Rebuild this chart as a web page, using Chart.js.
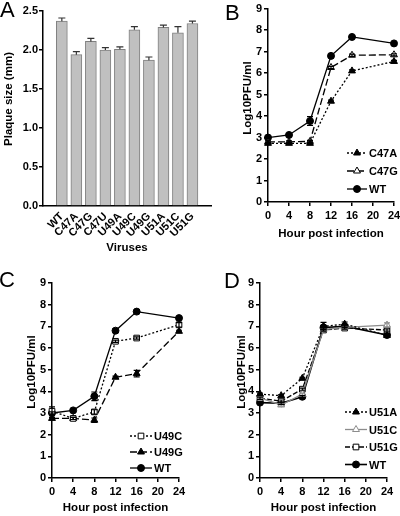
<!DOCTYPE html>
<html>
<head>
<meta charset="utf-8">
<script src="https://cdn.jsdelivr.net/npm/chart.js@4.4.0/dist/chart.umd.min.js"></script>
<style>
  html, body { margin: 0; padding: 0; background: #fff; overflow: hidden; }
  body { width: 400px; height: 516px; position: relative; font-family: "Liberation Sans", Arial, sans-serif; }
  canvas { position: absolute; }
  .tag { position: absolute; font-size: 22px; line-height: 22px; color: #000; }
</style>
</head>
<body>
<canvas id="chartA" width="215" height="265" style="left:0;top:0"></canvas>
<canvas id="chartB" width="206" height="250" style="left:200px;top:0"></canvas>
<canvas id="chartC" width="200" height="251" style="left:0;top:265px"></canvas>
<canvas id="chartD" width="206" height="251" style="left:200px;top:265px"></canvas>
<div class="tag" style="left:0;top:-1px">A</div>
<div class="tag" style="left:225px;top:2px">B</div>
<div class="tag" style="left:-1px;top:269px">C</div>
<div class="tag" style="left:224px;top:270px">D</div>
<script>
// panel A: plaque size
const viruses = ["WT", "C47A", "C47G", "C47U", "U49A", "U49C", "U49G", "U51A", "U51C", "U51G"]
const plaqueSize = [2.37, 1.94, 2.11, 2.00, 2.01, 2.26, 1.87, 2.29, 2.22, 2.34]
const plaqueErr = [0.04, 0.04, 0.04, 0.03, 0.03, 0.04, 0.04, 0.03, 0.08, 0.03]
const plaqueTicks = [0, 0.5, 1.0, 1.5, 2.0, 2.5]

// panels B-D: growth curves
const hours = [0, 4, 8, 12, 16, 24]
const hourTicks = [0, 4, 8, 12, 16, 20, 24]
const logTicks = [0, 1, 2, 3, 4, 5, 6, 7, 8, 9]

const wt = [3.0, 3.12, 3.77, 6.8, 7.68, 7.38]
const wtErr = [0.05, 0.05, 0.2, 0.08, 0.05, 0.05]
const c47a = [2.73, 2.73, 2.73, 4.69, 6.1, 6.54]
const c47aErr = [0.05, 0.05, 0.05, 0.05, 0.05, 0.05]
const c47g = [2.8, 2.8, 2.82, 6.26, 6.83, 6.85]
const c47gErr = [0.05, 0.05, 0.05, 0.05, 0.05, 0.05]

const u49c = [3.08, 2.75, 3.05, 6.31, 6.46, 7.07]
const u49cErr = [0.2, 0.05, 0.1, 0.05, 0.05, 0.1]
const u49g = [2.75, 2.75, 2.67, 4.65, 4.82, 6.77]
const u49gErr = [0.05, 0.05, 0.1, 0.05, 0.15, 0.05]

const wtD = [3.48, 3.45, 3.75, 6.95, 7.0, 6.6]
const wtDErr = [0.05, 0.05, 0.05, 0.1, 0.05, 0.05]
const u51a = [3.87, 3.8, 4.6, 7.0, 7.1, 6.58]
const u51aErr = [0.05, 0.05, 0.05, 0.18, 0.1, 0.05]
const u51c = [3.7, 3.37, 3.87, 6.85, 6.95, 7.06]
const u51cErr = [0.05, 0.05, 0.05, 0.05, 0.05, 0.1]
const u51g = [3.68, 3.55, 4.1, 6.83, 6.92, 6.83]
const u51gErr = [0.05, 0.05, 0.05, 0.05, 0.05, 0.05]

const FONT = "'Liberation Sans', Arial, sans-serif"
Chart.defaults.font.family = FONT
Chart.defaults.font.size = 11
Chart.defaults.font.weight = "bold"
Chart.defaults.color = "#000"
Chart.defaults.animation = false
Chart.defaults.devicePixelRatio = 1

const titleFont = { size: 11.5, weight: "bold" }

// error bars from ds.err, drawn through the y scale
const errorBars = {
  id: "errorBars",
  afterDatasetsDraw(chart, args, opts) {
    const ctx = chart.ctx
    const yScale = chart.scales.y
    chart.data.datasets.forEach((ds, i) => {
      if (!ds.err) return
      const meta = chart.getDatasetMeta(i)
      ctx.save()
      ctx.strokeStyle = ds.errColor || ds.borderColor
      ctx.lineWidth = 1.2
      meta.data.forEach((el, j) => {
        const raw = ds.data[j]
        const v = typeof raw === "object" ? raw.y : raw
        const e = ds.err[j]
        const top = yScale.getPixelForValue(v + e)
        const bot = opts.upOnly ? el.y : yScale.getPixelForValue(v - e)
        const w = opts.cap || 3
        ctx.beginPath()
        ctx.moveTo(el.x, bot)
        ctx.lineTo(el.x, top)
        ctx.moveTo(el.x - w, top)
        ctx.lineTo(el.x + w, top)
        if (!opts.upOnly) {
          ctx.moveTo(el.x - w, bot)
          ctx.lineTo(el.x + w, bot)
        }
        ctx.stroke()
      })
      ctx.restore()
    })
  }
}

// legend inside the plot: line sample + marker + label
const inLegend = {
  id: "inLegend",
  afterDraw(chart, args, opts) {
    if (opts.x == null) return
    const ctx = chart.ctx
    chart.data.datasets.forEach((ds, i) => {
      const y = opts.y + i * opts.gap
      ctx.save()
      ctx.strokeStyle = ds.borderColor
      ctx.lineWidth = ds.borderWidth
      ctx.setLineDash(ds.borderDash || [])
      ctx.beginPath()
      ctx.moveTo(opts.x, y)
      ctx.lineTo(opts.x + opts.w, y)
      ctx.stroke()
      ctx.setLineDash([])
      ctx.fillStyle = ds.pointBackgroundColor
      ctx.strokeStyle = ds.pointBorderColor
      ctx.lineWidth = 1
      Chart.helpers.drawPoint(ctx, {
        pointStyle: ds.pointStyle,
        radius: ds.pointRadius,
        rotation: 0,
        borderWidth: 1
      }, opts.x + opts.w / 2, y)
      ctx.fillStyle = "#000"
      ctx.font = "bold 11px " + FONT
      ctx.textBaseline = "middle"
      ctx.fillText(ds.label, opts.x + opts.w + 2, y + 1)
      ctx.restore()
    })
  }
}

// vertical axis title placed where the original has it
const yTitle = {
  id: "yTitle",
  afterDraw(chart, args, opts) {
    if (!opts.text) return
    const ctx = chart.ctx
    ctx.save()
    ctx.translate(opts.x, opts.y)
    ctx.rotate(-Math.PI / 2)
    ctx.font = "bold 11.5px " + FONT
    ctx.fillStyle = "#000"
    ctx.textAlign = "center"
    ctx.textBaseline = "middle"
    ctx.fillText(opts.text, 0, 0)
    ctx.restore()
  }
}

function axisStyle() {
  return {
    grid: { display: true, drawOnChartArea: false, drawTicks: true, tickLength: 4, color: "#000", lineWidth: 1.5 },
    border: { display: true, color: "#000", width: 1.5 }
  }
}

// ---------- A ----------
new Chart(document.getElementById("chartA"), {
  type: "bar",
  data: {
    datasets: [{
      data: plaqueSize.map((v, i) => ({ x: i, y: v })),
      err: plaqueErr,
      errColor: "#333",
      backgroundColor: "#c0c0c0",
      borderColor: "#808080",
      borderWidth: 1,
      barThickness: 11
    }]
  },
  options: {
    responsive: false,
    layout: { padding: { top: 11, right: 4, left: 0, bottom: 0 } },
    plugins: {
      legend: { display: false },
      tooltip: { enabled: false },
      errorBars: { upOnly: true, cap: 3.5 },
      yTitle: { text: "Plaque size (mm)", x: 9, y: 99 }
    },
    scales: {
      x: {
        type: "linear",
        min: -0.72,
        max: 9.7,
        afterBuildTicks: (s) => { s.ticks = viruses.map((_, i) => ({ value: i })) },
        afterFit: (s) => { s.height = 59 },
        ticks: {
          autoSkip: false,
          minRotation: 45,
          maxRotation: 45,
          padding: -4,
          callback: (v) => viruses[v]
        },
        grid: { display: false },
        border: { display: true, color: "#000", width: 1.5 },
        title: { display: true, text: "Viruses", font: titleFont, padding: { bottom: 10 } }
      },
      y: {
        min: 0,
        max: 2.5,
        afterBuildTicks: (s) => { s.ticks = plaqueTicks.map((v) => ({ value: v })) },
        afterFit: (s) => { s.width = 43 },
        ticks: { padding: 1, callback: (v) => v.toFixed(1) },
        ...axisStyle()
      }
    }
  },
  plugins: [errorBars, yTitle]
})

// ---------- line panels ----------
function lineSet(label, values, err, style) {
  return Object.assign({
    label: label,
    data: hours.map((h, i) => ({ x: h, y: values[i] })),
    err: err,
    borderColor: "#000",
    borderWidth: 1.3,
    pointRadius: 3.5,
    pointBorderWidth: 1,
    pointBorderColor: "#000",
    pointBackgroundColor: "#000",
    tension: 0,
    clip: false
  }, style)
}

function growthChart(id, datasets, geo) {
  return new Chart(document.getElementById(id), {
    type: "line",
    data: { datasets: datasets },
    options: {
      responsive: false,
      layout: { padding: { top: geo.top, right: geo.right, left: 0, bottom: 0 } },
      plugins: {
        legend: { display: false },
        tooltip: { enabled: false },
        errorBars: { cap: 3 },
        inLegend: geo.legend,
        yTitle: { text: "Log10PFU/ml", x: geo.ytx, y: geo.yty }
      },
      scales: {
        x: {
          type: "linear",
          min: 0,
          max: 24,
          afterBuildTicks: (s) => { s.ticks = hourTicks.map((v) => ({ value: v })) },
          afterFit: (s) => { s.height = geo.xh },
          ticks: { padding: 3, maxRotation: 0 },
          ...axisStyle(),
          title: { display: true, text: "Hour post infection", font: titleFont, padding: { bottom: geo.xtitle } }
        },
        y: {
          min: 0,
          max: 9,
          afterBuildTicks: (s) => { s.ticks = logTicks.map((v) => ({ value: v })) },
          afterFit: (s) => { s.width = geo.yw },
          ticks: { padding: 2 },
          ...axisStyle()
        }
      }
    },
    plugins: [errorBars, inLegend, yTitle]
  })
}

const openMark = { pointBackgroundColor: "#fff" }

growthChart("chartB", [
  lineSet("C47A", c47a, c47aErr, { borderDash: [2, 2], pointStyle: "triangle", pointRadius: 4 }),
  lineSet("C47G", c47g, c47gErr, Object.assign({ borderDash: [7, 3], pointStyle: "triangle", pointRadius: 4 }, openMark)),
  lineSet("WT", wt, wtErr, { pointStyle: "circle" })
], { top: 8, right: 12, xh: 48, yw: 68, xtitle: 9, ytx: 47.5, yty: 98, legend: { x: 147, y: 153, gap: 18, w: 20 } })

growthChart("chartC", [
  lineSet("U49C", u49c, u49cErr, Object.assign({ borderDash: [2, 2], pointStyle: "rect", pointRadius: 4 }, openMark)),
  lineSet("U49G", u49g, u49gErr, { borderDash: [7, 3], pointStyle: "triangle", pointRadius: 4 }),
  lineSet("WT", wt, wtErr, { pointStyle: "circle" })
], { top: 18, right: 21, xh: 38, yw: 52, xtitle: 1, ytx: 32, yty: 107, legend: { x: 130, y: 171, gap: 16, w: 22 } })

growthChart("chartD", [
  lineSet("U51A", u51a, u51aErr, { borderDash: [2, 2], pointStyle: "triangle", pointRadius: 4 }),
  lineSet("U51C", u51c, u51cErr, Object.assign({ borderColor: "#8c8c8c", pointBorderColor: "#8c8c8c", pointStyle: "triangle", pointRadius: 4 }, openMark)),
  lineSet("U51G", u51g, u51gErr, Object.assign({ borderDash: [5, 2], pointStyle: "rect", pointRadius: 4 }, openMark)),
  lineSet("WT", wtD, wtDErr, { pointStyle: "circle", borderWidth: 1.6 })
], { top: 18, right: 19, xh: 38, yw: 60, xtitle: 1, ytx: 41.5, yty: 107, legend: { x: 145, y: 147, gap: 17.5, w: 22 } })
</script>
</body>
</html>
